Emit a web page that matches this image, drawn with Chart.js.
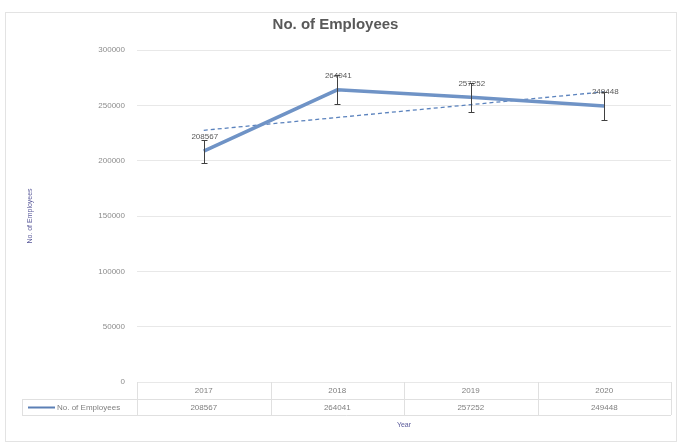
<!DOCTYPE html>
<html><head><meta charset="utf-8">
<script src="https://cdn.jsdelivr.net/npm/chart.js@4/dist/chart.umd.min.js"></script>
<style>html,body{margin:0;padding:0;background:#fff;}#wrap{position:relative;width:681px;height:447px;}</style>
</head><body><div id="wrap"><canvas id="c" width="681" height="447"></canvas></div>
<script>
const years = ['2017', '2018', '2019', '2020'];
const employees = [208567, 264041, 257252, 249448];
const trendValues = [227449, null, null, 262205];
const errorPercent = 5;
const yTicks = [0, 50000, 100000, 150000, 200000, 250000, 300000];
const seriesName = 'No. of Employees';

const FONT = '"Liberation Sans", Arial, sans-serif';

const framePlugin = {
  id: 'frame',
  beforeDraw(chart) {
    const ctx = chart.ctx;
    ctx.save();
    ctx.fillStyle = '#fff';
    ctx.fillRect(0, 0, chart.width, chart.height);
    ctx.strokeStyle = '#e3e3e3';
    ctx.lineWidth = 1;
    ctx.strokeRect(5.5, 12.5, 671, 429);
    ctx.restore();
  }
};

const extrasPlugin = {
  id: 'extras',
  afterDatasetsDraw(chart) {
    const ctx = chart.ctx;
    const y = chart.scales.y;
    const meta = chart.getDatasetMeta(0);
    ctx.save();
    ctx.strokeStyle = '#404040';
    ctx.lineWidth = 1;
    meta.data.forEach((pt, i) => {
      const v = employees[i];
      const e = v * errorPercent / 100;
      const yt = Math.round(y.getPixelForValue(v + e)) + 0.5;
      const yb = Math.round(y.getPixelForValue(v - e)) + 0.5;
      const x = Math.round(pt.x) + 0.5;
      ctx.beginPath();
      ctx.moveTo(x, yt); ctx.lineTo(x, yb);
      ctx.moveTo(x - 3, yt); ctx.lineTo(x + 3, yt);
      ctx.moveTo(x - 3, yb); ctx.lineTo(x + 3, yb);
      ctx.stroke();
    });
    ctx.fillStyle = '#595959';
    ctx.font = '8px ' + FONT;
    ctx.textAlign = 'center';
    ctx.textBaseline = 'middle';
    meta.data.forEach((pt, i) => {
      ctx.fillText(String(employees[i]), pt.x + 1, pt.y - 14);
    });
    ctx.restore();
  },
  afterDraw(chart) {
    const ctx = chart.ctx;
    const x = chart.scales.x;
    const area = chart.chartArea;
    const top = area.bottom;
    const r1 = top + 17, r2 = top + 33;
    ctx.save();
    ctx.strokeStyle = '#e0e0e0';
    ctx.lineWidth = 1;
    const bounds = [area.left];
    years.forEach((_, i) => {
      const cx = x.getPixelForValue(i);
      bounds.push(cx + (x.getPixelForValue(1) - x.getPixelForValue(0)) / 2);
    });
    ctx.beginPath();
    bounds.forEach(b => {
      const bx = Math.round(b) + 0.5;
      ctx.moveTo(bx, top); ctx.lineTo(bx, r2);
    });
    ctx.moveTo(22.5, r1); ctx.lineTo(22.5, r2);
    ctx.moveTo(22, Math.round(r1) + 0.5); ctx.lineTo(area.right, Math.round(r1) + 0.5);
    ctx.moveTo(22, Math.round(r2) + 0.5); ctx.lineTo(area.right, Math.round(r2) + 0.5);
    ctx.stroke();
    ctx.fillStyle = '#7f7f7f';
    ctx.font = '8px ' + FONT;
    ctx.textAlign = 'center';
    ctx.textBaseline = 'middle';
    years.forEach((yr, i) => {
      const cx = x.getPixelForValue(i);
      ctx.fillText(yr, cx, top + 9);
      ctx.fillText(String(employees[i]), cx, top + 25.5);
    });
    ctx.strokeStyle = '#5b7fb5';
    ctx.lineWidth = 2;
    ctx.beginPath();
    ctx.moveTo(28, top + 25.5); ctx.lineTo(55, top + 25.5);
    ctx.stroke();
    ctx.textAlign = 'left';
    ctx.fillStyle = '#7f7f7f';
    ctx.fillText(seriesName, 57, top + 25.5);
    ctx.fillStyle = '#5a5a9a';
    ctx.font = '7px ' + FONT;
    ctx.textAlign = 'center';
    ctx.fillText('Year', (area.left + area.right) / 2, top + 43);
    ctx.restore();
  }
};

new Chart(document.getElementById('c'), {
  type: 'line',
  data: {
    labels: years,
    datasets: [
      {
        label: seriesName,
        data: employees,
        borderColor: '#6f93c6',
        borderWidth: 3.5,
        pointRadius: 0,
        tension: 0,
        order: 1
      },
      {
        label: 'Linear (' + seriesName + ')',
        data: trendValues,
        borderColor: '#5a82bd',
        borderWidth: 1.3,
        borderDash: [4, 3],
        pointRadius: 0,
        spanGaps: true,
        order: 2
      }
    ]
  },
  options: {
    responsive: false,
    animation: false,
    devicePixelRatio: 1,
    layout: { padding: { top: 0, right: 10, bottom: 0, left: 0 } },
    plugins: {
      legend: { display: false },
      tooltip: { enabled: false },
      title: {
        display: true,
        text: 'No. of Employees',
        color: '#595959',
        font: { family: FONT, size: 15, weight: 'bold' },
        padding: { top: 16, bottom: 16 }
      }
    },
    scales: {
      x: {
        offset: true,
        grid: { display: false, offset: true },
        border: { display: false },
        ticks: { display: false },
        afterFit(s) { s.height = 65; }
      },
      y: {
        min: 0,
        max: 300000,
        afterBuildTicks(s) { s.ticks = yTicks.map(v => ({ value: v })); },
        grid: { color: '#e8e8e8', drawTicks: false },
        border: { display: false },
        ticks: {
          color: '#8c8c8c',
          font: { family: FONT, size: 8 },
          padding: 12,
          callback: v => String(v)
        },
        title: {
          display: true,
          text: 'No. of Employees',
          color: '#5a5a9a',
          font: { family: FONT, size: 7 },
          padding: { top: 26, bottom: 0 }
        },
        afterFit(s) { s.width = 137; }
      }
    }
  },
  plugins: [framePlugin, extrasPlugin]
});
</script></body></html>
